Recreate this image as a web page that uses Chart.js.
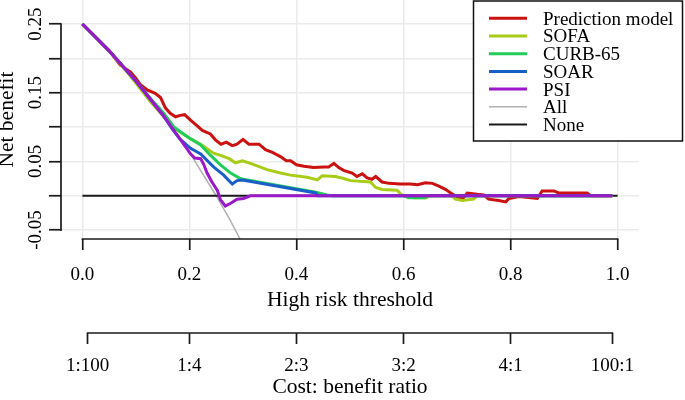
<!DOCTYPE html>
<html>
<head>
<meta charset="utf-8">
<script src="https://cdn.jsdelivr.net/npm/chart.js@4/dist/chart.umd.min.js"></script>
<style>
    html, body { margin: 0; padding: 0; background: #fff; }
    #wrap { width: 685px; height: 400px; }
</style>
</head>
<body>
<div id="wrap"><canvas id="dca-chart" width="685" height="400"></canvas></div>
<script>
// Decision curve: threshold (x) vs net benefit (y)
const predX = [0, 0.05, 0.071, 0.09, 0.099, 0.108, 0.121, 0.136, 0.146, 0.155, 0.164, 0.174, 0.183, 0.191, 0.202, 0.214, 0.224, 0.239, 0.249, 0.259, 0.269, 0.280, 0.289, 0.300, 0.311, 0.330, 0.342, 0.355, 0.370, 0.381, 0.389, 0.400, 0.414, 0.432, 0.451, 0.460, 0.470, 0.479, 0.488, 0.504, 0.513, 0.523, 0.532, 0.541, 0.548, 0.560, 0.573, 0.594, 0.613, 0.626, 0.641, 0.654, 0.666, 0.679, 0.688, 0.697, 0.710, 0.719, 0.738, 0.750, 0.759, 0.778, 0.791, 0.797, 0.816, 0.850, 0.859, 0.881, 0.890, 0.943, 0.950, 0.990];
const predY = [0.250, 0.211, 0.190, 0.180, 0.172, 0.162, 0.154, 0.149, 0.143, 0.128, 0.120, 0.115, 0.117, 0.118, 0.110, 0.102, 0.095, 0.090, 0.081, 0.075, 0.078, 0.073, 0.075, 0.082, 0.075, 0.075, 0.067, 0.063, 0.057, 0.051, 0.051, 0.045, 0.043, 0.041, 0.042, 0.042, 0.047, 0.041, 0.037, 0.033, 0.028, 0.032, 0.026, 0.024, 0.028, 0.020, 0.018, 0.017, 0.017, 0.016, 0.019, 0.018, 0.014, 0.009, 0.004, 0.000, -0.005, 0.004, 0.002, 0.001, -0.005, -0.007, -0.009, -0.004, -0.001, -0.004, 0.007, 0.007, 0.004, 0.004, 0.000, 0.000];

const sofaX = [0, 0.05, 0.09, 0.127, 0.15, 0.171, 0.202, 0.221, 0.245, 0.261, 0.274, 0.286, 0.299, 0.314, 0.345, 0.370, 0.389, 0.420, 0.439, 0.448, 0.473, 0.488, 0.501, 0.538, 0.548, 0.560, 0.588, 0.597, 0.620, 0.642, 0.650, 0.690, 0.697, 0.710, 0.731, 0.738, 0.990];
const sofaY = [0.250, 0.211, 0.174, 0.137, 0.117, 0.099, 0.083, 0.075, 0.062, 0.058, 0.054, 0.048, 0.051, 0.047, 0.038, 0.033, 0.030, 0.027, 0.023, 0.029, 0.028, 0.025, 0.022, 0.020, 0.012, 0.009, 0.008, 0.001, -0.003, -0.003, 0.000, 0.000, -0.005, -0.007, -0.005, 0.000, 0.000];

const curbX = [0, 0.05, 0.10, 0.13, 0.152, 0.171, 0.196, 0.221, 0.239, 0.258, 0.277, 0.295, 0.300, 0.436, 0.457, 0.467, 0.600, 0.610, 0.640, 0.645, 0.990];
const curbY = [0.250, 0.211, 0.167, 0.139, 0.120, 0.100, 0.086, 0.074, 0.059, 0.045, 0.033, 0.025, 0.024, 0.005, 0.001, 0.000, 0.000, -0.003, -0.003, 0.000, 0.000];

const soarX = [0, 0.05, 0.10, 0.15, 0.168, 0.183, 0.202, 0.221, 0.245, 0.264, 0.280, 0.289, 0.299, 0.436, 0.440, 0.990];
const soarY = [0.250, 0.211, 0.167, 0.118, 0.097, 0.082, 0.069, 0.061, 0.042, 0.030, 0.017, 0.022, 0.023, 0.004, 0.000, 0.000];

const psiX = [0, 0.05, 0.10, 0.15, 0.202, 0.210, 0.221, 0.227, 0.233, 0.242, 0.252, 0.258, 0.267, 0.277, 0.289, 0.301, 0.314, 0.990];
const psiY = [0.250, 0.211, 0.167, 0.118, 0.061, 0.055, 0.054, 0.045, 0.033, 0.020, 0.008, -0.006, -0.015, -0.011, -0.005, -0.004, 0.000, 0.000];

const allX = [0, 0.05, 0.10, 0.15, 0.20, 0.25, 0.275, 0.30];
const allY = [0.250, 0.211, 0.167, 0.118, 0.063, 0.000, -0.034, -0.071];

const noneX = [0, 1];
const noneY = [0, 0];

const seriesNames = ['Prediction model', 'SOFA', 'CURB-65', 'SOAR', 'PSI', 'All', 'None'];

const xTicks = [0, 0.2, 0.4, 0.6, 0.8, 1.0];
const xTickLabels = ['0.0', '0.2', '0.4', '0.6', '0.8', '1.0'];
const costTicks = [1 / 101, 0.2, 0.4, 0.6, 0.8, 100 / 101];
const costTickLabels = ['1:100', '1:4', '2:3', '3:2', '4:1', '100:1'];
const yTicks = [-0.05, 0, 0.05, 0.10, 0.15, 0.20, 0.25];
const yTickLabels = ['-0.05', '', '0.05', '', '0.15', '', '0.25'];

const FONT_FAMILY = '"Liberation Serif", "Times New Roman", serif';
const TEXT_COLOR = '#000';
const AXIS_COLOR = '#1a1a1a';
const GRID_COLOR = '#ebebeb';

const toPoints = (xs, ys) => xs.map((x, i) => ({ x, y: ys[i] }));

function lineSet(label, xs, ys, color, width, order) {
    return {
        label,
        data: toPoints(xs, ys),
        borderColor: color,
        backgroundColor: color,
        borderWidth: width,
        pointRadius: 0,
        tension: 0,
        fill: false,
        order
    };
}

// R-style axes: axis line only across the tick range, rotated y labels, boxed legend
const rStylePlugin = {
    id: 'rStyle',
    afterDraw(chart) {
        const { ctx, scales } = chart;
        ctx.save();
        ctx.strokeStyle = AXIS_COLOR;
        ctx.lineWidth = 1.7;
        ['x', 'x2'].forEach(id => {
            const s = scales[id];
            const a = s.getPixelForValue(s.ticks[0].value);
            const b = s.getPixelForValue(s.ticks[s.ticks.length - 1].value);
            ctx.beginPath();
            ctx.moveTo(a - 0.85, s.top);
            ctx.lineTo(b + 0.85, s.top);
            ctx.stroke();
        });
        const ys = scales.y;
        ctx.beginPath();
        ctx.moveTo(ys.right, ys.getPixelForValue(yTicks[0]) + 0.85);
        ctx.lineTo(ys.right, ys.getPixelForValue(yTicks[yTicks.length - 1]) - 0.85);
        ctx.stroke();

        ctx.fillStyle = TEXT_COLOR;
        ctx.font = '19px ' + FONT_FAMILY;
        ctx.textAlign = 'center';
        ctx.textBaseline = 'middle';
        yTicks.forEach((v, i) => {
            if (!yTickLabels[i]) return;
            ctx.save();
            ctx.translate(36, ys.getPixelForValue(v));
            ctx.rotate(-Math.PI / 2);
            ctx.fillText(yTickLabels[i], 0, 0);
            ctx.restore();
        });

        // legend box
        const box = { left: 473.5, top: 1, right: 682.5, bottom: 141 };
        ctx.fillStyle = '#fff';
        ctx.fillRect(box.left, box.top, box.right - box.left, box.bottom - box.top);
        ctx.strokeStyle = '#111';
        ctx.lineWidth = 1.5;
        ctx.strokeRect(box.left, box.top, box.right - box.left, box.bottom - box.top);
        ctx.textAlign = 'left';
        chart.data.datasets.forEach((ds, i) => {
            const y = 18.3 + i * 17.7;
            ctx.strokeStyle = ds.borderColor;
            ctx.lineWidth = ds.borderWidth;
            ctx.beginPath();
            ctx.moveTo(489, y);
            ctx.lineTo(527, y);
            ctx.stroke();
            ctx.fillStyle = TEXT_COLOR;
            ctx.fillText(ds.label, 543, y + 1.5);
        });
        ctx.restore();
    }
};

const tickFont = { family: FONT_FAMILY, size: 19 };
const titleFont = { family: FONT_FAMILY, size: 21.5 };

new Chart(document.getElementById('dca-chart'), {
    type: 'line',
    data: {
        datasets: [
            lineSet(seriesNames[0], predX, predY, '#cc1111', 3, 5),
            lineSet(seriesNames[1], sofaX, sofaY, '#a8cc18', 3, 4),
            lineSet(seriesNames[2], curbX, curbY, '#22cc58', 3, 3),
            lineSet(seriesNames[3], soarX, soarY, '#1a5ec8', 3, 2),
            lineSet(seriesNames[4], psiX, psiY, '#9a18c8', 3, 1),
            lineSet(seriesNames[5], allX, allY, '#b0b0b0', 1.5, 7),
            lineSet(seriesNames[6], noneX, noneY, '#1a1a1a', 1.8, 6)
        ]
    },
    options: {
        responsive: false,
        animation: false,
        devicePixelRatio: 1,
        layout: { padding: { left: 0, right: 46, top: 0, bottom: 0 } },
        plugins: { legend: { display: false }, tooltip: { enabled: false } },
        scales: {
            x: {
                type: 'linear',
                position: 'bottom',
                weight: 0,
                min: -0.04,
                max: 1.04,
                afterBuildTicks: s => { s.ticks = xTicks.map(v => ({ value: v })); },
                afterFit: s => { s.height = 94; },
                border: { display: false },
                grid: { color: GRID_COLOR, lineWidth: 1.5, tickLength: 11, tickColor: AXIS_COLOR, tickWidth: 1.7 },
                ticks: {
                    autoSkip: false, maxRotation: 0, padding: 14, color: TEXT_COLOR, font: tickFont,
                    callback: (v, i) => xTickLabels[i]
                },
                title: { display: true, text: 'High risk threshold', color: TEXT_COLOR, font: titleFont, padding: { top: 0, bottom: 20 } }
            },
            x2: {
                type: 'linear',
                position: 'bottom',
                weight: 1,
                min: -0.04,
                max: 1.04,
                afterBuildTicks: s => { s.ticks = costTicks.map(v => ({ value: v })); },
                afterFit: s => { s.height = 67; },
                border: { display: false },
                grid: { drawOnChartArea: false, tickLength: 11, tickColor: AXIS_COLOR, tickWidth: 1.7 },
                ticks: {
                    autoSkip: false, maxRotation: 0, padding: 11, color: TEXT_COLOR, font: tickFont,
                    callback: (v, i) => costTickLabels[i]
                },
                title: { display: true, text: 'Cost: benefit ratio', color: TEXT_COLOR, font: titleFont, padding: 0 }
            },
            y: {
                type: 'linear',
                min: -0.063,
                max: 0.285,
                afterBuildTicks: s => { s.ticks = yTicks.map(v => ({ value: v })); },
                afterFit: s => { s.width = 61; },
                border: { display: false },
                grid: { color: GRID_COLOR, lineWidth: 1.5, tickLength: 12, tickColor: AXIS_COLOR, tickWidth: 1.7 },
                ticks: { display: false },
                title: { display: true, text: 'Net benefit', color: TEXT_COLOR, font: { family: FONT_FAMILY, size: 21.5, lineHeight: 0.72 }, padding: 0 }
            }
        }
    },
    plugins: [rStylePlugin]
});
</script>
</body>
</html>
